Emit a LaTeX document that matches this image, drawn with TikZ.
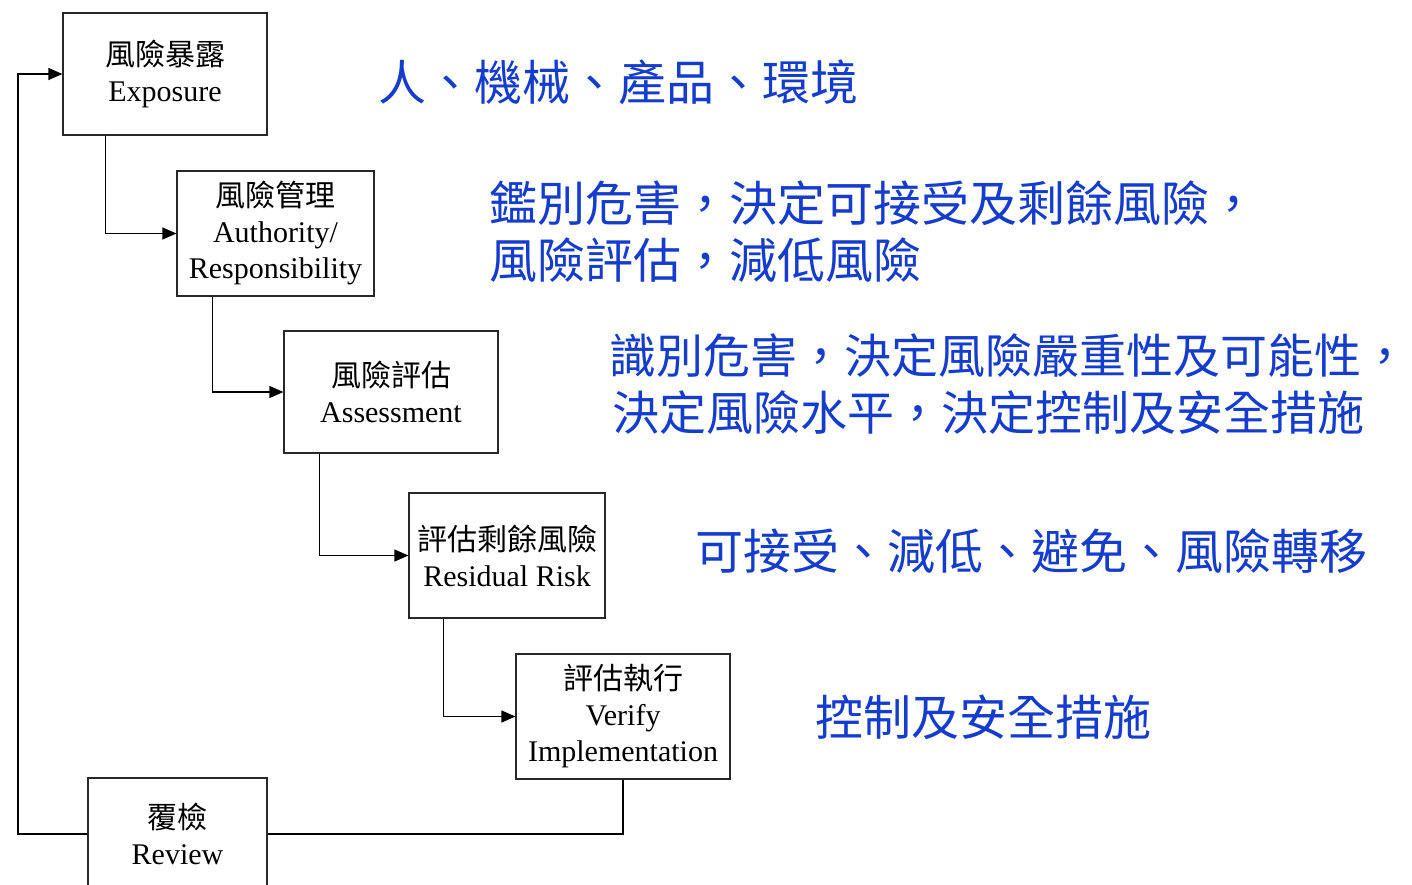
\documentclass[tikz,border=0pt]{standalone}
\usepackage{fontspec}
\setmainfont{Liberation Serif}
\newfontfamily\cjk{Noto Sans CJK TC}
\usetikzlibrary{arrows.meta}
\definecolor{txtblue}{RGB}{20,60,205}
\definecolor{boxline}{RGB}{40,40,40}
\begin{document}
\begin{tikzpicture}[x=1pt,y=-1pt,
  box/.style={draw=boxline, line width=1.2pt, inner sep=0pt, align=center, font=\fontsize{30}{36}\selectfont},
  conn/.style={line width=1.2pt, draw=black},
  arr/.style={conn, -{Triangle[length=14pt,width=12pt]}},
  note/.style={anchor=base west, inner sep=0pt, text=txtblue, font=\cjk\fontsize{48}{57}\selectfont},
  notesm/.style={note, font=\cjk\fontsize{47}{57}\selectfont}]
\useasboundingbox (0,0) rectangle (1412,884);
\clip (0,0) rectangle (1412,884);
\fill[white] (0,0) rectangle (1412,884);
% boxes
\node[box, minimum width=204pt, minimum height=122pt] (e1) at (165,74) {{\cjk 風險暴露}\\Exposure};
\node[box, minimum width=197pt, minimum height=125pt] (a2) at (275.5,233.5) {{\cjk 風險管理}\\Authority/\\Responsibility};
\node[box, minimum width=214pt, minimum height=122pt] (a3) at (391,392) {{\cjk 風險評估}\\Assessment};
\node[box, minimum width=196pt, minimum height=125pt] (r4) at (507,555.5) {{\cjk 評估剩餘風險}\\Residual Risk};
\node[box, minimum width=214pt, minimum height=125pt] (v5) at (623,716.5) {{\cjk 評估執行}\\Verify\\Implementation};
\node[box, minimum width=179pt, minimum height=112pt] (rv6) at (177.5,834) {{\cjk 覆檢}\\Review};
% connectors
\draw[arr] ([xshift=43pt]e1.south west) |- (a2.west);
\draw[arr] ([xshift=36pt]a2.south west) |- (a3.west);
\draw[arr] ([xshift=36pt]a3.south west) |- (r4.west);
\draw[arr] ([xshift=35pt]r4.south west) |- (v5.west);
\draw[conn] (v5.south) |- (rv6.east);
\coordinate (loop) at (18,834);
\draw[arr] (rv6.west) -- (loop) |- (e1.west);
% notes
\node[note] (n1) at (378,100) {人、機械、產品、環境};
\node[note] (n2a) at (489,221) {鑑別危害，決定可接受及剩餘風險，};
\node[note] (n2b) at (489,278) {風險評估，減低風險};
\node[notesm] (n3a) at (609,373) {識別危害，決定風險嚴重性及可能性，};
\node[notesm] (n3b) at (612,430) {決定風險水平，決定控制及安全措施};
\node[note] (n4) at (695,569) {可接受、減低、避免、風險轉移};
\node[note] (n5) at (815,735) {控制及安全措施};
\end{tikzpicture}
\end{document}
